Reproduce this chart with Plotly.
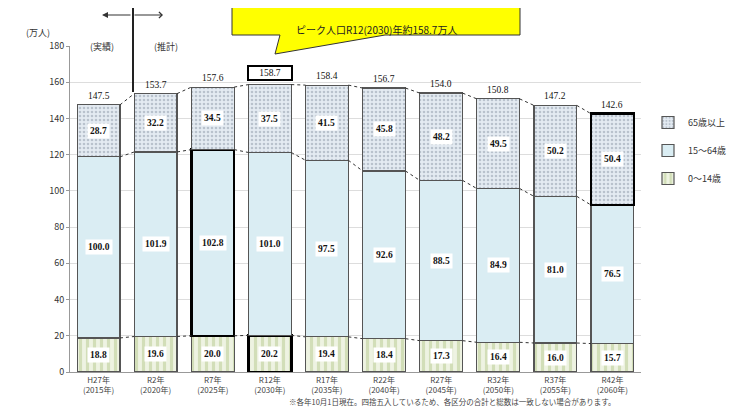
import plotly.graph_objects as go

categories = ["H27年<br>(2015年)", "R2年<br>(2020年)", "R7年<br>(2025年)", "R12年<br>(2030年)",
              "R17年<br>(2035年)", "R22年<br>(2040年)", "R27年<br>(2045年)", "R32年<br>(2050年)",
              "R37年<br>(2055年)", "R42年<br>(2060年)"]
age_0_14 = [18.8, 19.6, 20.0, 20.2, 19.4, 18.4, 17.3, 16.4, 16.0, 15.7]
age_15_64 = [100.0, 101.9, 102.8, 101.0, 97.5, 92.6, 88.5, 84.9, 81.0, 76.5]
age_65 = [28.7, 32.2, 34.5, 37.5, 41.5, 45.8, 48.2, 49.5, 50.2, 50.4]
totals = [147.5, 153.7, 157.6, 158.7, 158.4, 156.7, 154.0, 150.8, 147.2, 142.6]
y_ticks = [0, 20, 40, 60, 80, 100, 120, 140, 160, 180]

W, H = 750, 418
OFF = 8  # page body margin
L, R, T, B = 70, 109, 46, 46
PW, PH = W - L - R, H - T - B
def px(x):
    return (x - L) / PW
def py(y):
    return (H - B - y) / PH

FONT = "Noto Sans CJK JP"
xs = list(range(len(categories)))
bw = 0.75

def widths(vals):
    m = max(vals)
    return [2.5 if v == m else 1.2 for v in vals]
def lcolors(vals):
    m = max(vals)
    return ["#000000" if v == m else "#555555" for v in vals]

fig = go.Figure()
fig.add_bar(x=xs, y=age_0_14, width=bw, name="0～14歳", legendgroup="a", legendrank=3,
            marker=dict(color="#eef3e2", line=dict(color=lcolors(age_0_14), width=widths(age_0_14)),
                        pattern=dict(shape="|", fgcolor="#b5ca8d", bgcolor="#eef3e2", size=7, solidity=0.45)))
fig.add_bar(x=xs, y=age_15_64, width=bw, name="15～64歳", legendgroup="b", legendrank=2,
            marker=dict(color="#daedf3", line=dict(color=lcolors(age_15_64), width=widths(age_15_64))))
fig.add_bar(x=xs, y=age_65, width=bw, name="65歳以上", legendgroup="c", legendrank=1,
            marker=dict(color="#e4ebf2", line=dict(color=lcolors(age_65), width=widths(age_65)),
                        pattern=dict(shape=".", fgcolor="#8e9aa8", bgcolor="#e4ebf2", size=4, solidity=0.35)))

# series lines
c1 = age_0_14
c2 = [a + b for a, b in zip(age_0_14, age_15_64)]
c3 = [a + b + c for a, b, c in zip(age_0_14, age_15_64, age_65)]
lx, ly = [], []
for c in (c1, c2, c3):
    for i in range(len(xs) - 1):
        lx += [xs[i] + bw / 2, xs[i + 1] - bw / 2, None]
        ly += [c[i], c[i + 1], None]
fig.add_scatter(x=lx, y=ly, mode="lines", line=dict(color="#333333", width=1, dash="dot"),
                showlegend=False, hoverinfo="skip")

ann = []
numfont = dict(family="Liberation Serif", size=9.5, color="#111111")
for i in xs:
    for base, v in ((0, age_0_14[i]), (c1[i], age_15_64[i]), (c2[i], age_65[i])):
        ann.append(dict(x=i, y=base + v / 2, text=f"<b>{v:.1f}</b>", showarrow=False,
                        bgcolor="white", borderpad=2, font=numfont))
    peak = totals[i] == max(totals)
    ann.append(dict(x=i, y=c3[i], yshift=4, yanchor="bottom", text=f"{totals[i]:.1f}", showarrow=False,
                    font=numfont, bordercolor="black" if peak else "rgba(0,0,0,0)",
                    borderwidth=2 if peak else 0, borderpad=1 if peak else 0,
                    width=40 if peak else None))

ann += [
    dict(xref="paper", yref="paper", x=px(38), y=py(24), xanchor="center", text="(万人)", showarrow=False,
         font=dict(family=FONT, size=9, color="#333")),
    dict(xref="paper", yref="paper", x=px(102), y=py(38), xanchor="center", text="(実績)", showarrow=False,
         font=dict(family=FONT, size=9, color="#333")),
    dict(xref="paper", yref="paper", x=px(166), y=py(38), xanchor="center", text="(推計)", showarrow=False,
         font=dict(family=FONT, size=9, color="#333")),
    dict(xref="paper", yref="paper", x=px(376), y=py(20), xanchor="center",
         text="ピーク人口R12(2030)年約158.7万人",
         showarrow=False, font=dict(family=FONT, size=10, color="#222")),
    dict(xref="paper", yref="paper", axref="pixel", ayref="pixel", x=px(102), y=py(15), ax=30, ay=0,
         showarrow=True, arrowhead=2, arrowsize=1, arrowwidth=1.2, arrowcolor="#333", text=""),
    dict(xref="paper", yref="paper", axref="pixel", ayref="pixel", x=px(163), y=py(15), ax=-30, ay=0,
         showarrow=True, arrowhead=4, arrowsize=1, arrowwidth=1.2, arrowcolor="#333", text=""),
    dict(xref="paper", yref="paper", x=px(452), y=py(409), xanchor="center",
         text="※各年10月1日現在。四捨五入しているため、各区分の合計と総数は一致しない場合があります。",
         showarrow=False, font=dict(family=FONT, size=7.5, color="#444")),
]

shapes = [
    dict(type="line", xref="paper", yref="paper", x0=px(133), x1=px(133), y0=py(5), y1=py(92),
         line=dict(color="#222", width=2)),
    dict(type="path", xref="paper", yref="paper",
         path=f"M {px(232)},{py(6)} L {px(520)},{py(6)} L {px(520)},{py(35)} L {px(385)},{py(35)} "
              f"L {px(275)},{py(54)} L {px(280)},{py(35)} L {px(232)},{py(35)} Z",
         fillcolor="#ffff00", line=dict(color="#333", width=1)),
]

fig.update_layout(
    width=W, height=H, margin=dict(l=L - OFF, r=R + OFF, t=T - OFF, b=B + OFF),
    barmode="stack", bargap=0.25,
    plot_bgcolor="white", paper_bgcolor="white",
    font=dict(family=FONT, size=9, color="#333"),
    xaxis=dict(range=[-0.5, len(xs) - 0.5], tickvals=xs, ticktext=categories, showgrid=False,
               showline=True, linecolor="#999", tickfont=dict(size=8, color="#444"), ticks=""),
    yaxis=dict(range=[0, 180], tickvals=y_ticks, showgrid=True, gridcolor="#dddddd",
               showline=True, linecolor="#999", ticks="outside", ticklen=3, tickcolor="#999",
               tickfont=dict(size=9, color="#333"), zeroline=False),
    legend=dict(x=px(648), y=py(108), xanchor="left", yanchor="top", traceorder="grouped",
                tracegroupgap=9, font=dict(family=FONT, size=9, color="#333"), bgcolor="rgba(0,0,0,0)"),
    annotations=ann, shapes=shapes, showlegend=True,
)
fig.write_html("out.html")
